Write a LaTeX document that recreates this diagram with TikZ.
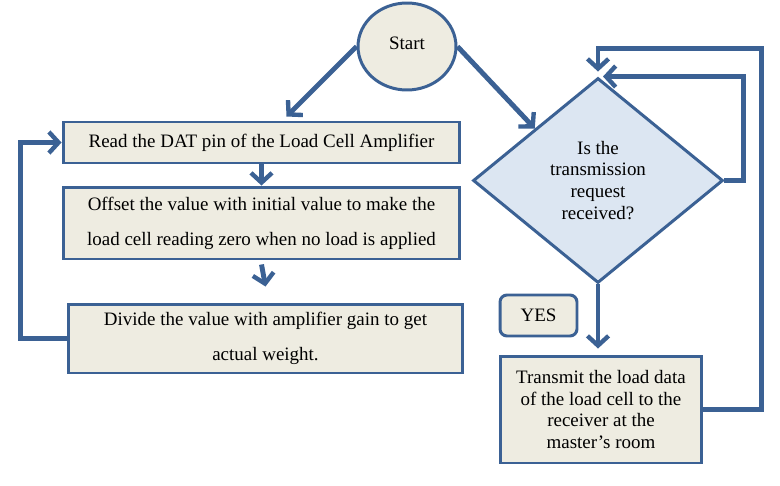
\documentclass[tikz,border=0pt]{standalone}
\usepackage{fontspec}
\newfontfamily\timesfont{Liberation Serif}
\usetikzlibrary{arrows.meta,shapes.geometric,positioning}
\definecolor{flowline}{RGB}{59,97,148}
\definecolor{boxfill}{RGB}{238,236,225}
\definecolor{decfill}{RGB}{220,230,242}

\begin{document}
\begin{tikzpicture}[x=0.02cm, y=-0.02cm,
  >={Straight Barb[length=5.5pt,width=12pt,line width=2.5pt]},
  every node/.style={font=\timesfont\fontsize{10.8}{12.5}\selectfont},
  proc/.style={draw=flowline, line width=1.7pt, fill=boxfill, inner sep=0pt, align=center},
  wide/.style={font=\timesfont\fontsize{10.8}{20}\selectfont},
  decide/.style={draw=flowline, line width=1.7pt, fill=decfill, diamond, inner sep=0pt,
    minimum width=5cm, minimum height=4.1cm, align=center},
  flow/.style={->, draw=flowline, line width=2.8pt}]
\path[use as bounding box] (0,0) rectangle (780,486);
\node[proc, ellipse, minimum width=1.96cm, minimum height=1.74cm] (start) at (407,46.5) {\raisebox{0.12cm}{Start}};
\node[proc, minimum width=7.94cm, minimum height=0.82cm] (read) at (261.5,142.5) {Read the DAT pin of the Load Cell Amplifier};
\node[proc, wide, minimum width=7.94cm, minimum height=1.44cm] (offset) at (261.5,223) {Offset the value with initial value to make the\\load cell reading zero when no load is applied};
\node[proc, wide, minimum width=7.9cm, minimum height=1.38cm] (divide) at (265.5,338.5) {Divide the value with amplifier gain to get\\actual weight.};
\node[decide] (request) at (598,180.5) {Is the\\transmission\\request\\received?};
\node[proc, rounded corners=4pt, minimum width=1.54cm, minimum height=0.82cm] (yes) at (538.5,315.5) {YES};
\node[proc, minimum width=4.04cm, minimum height=2.14cm] (send) at (601,409.5) {Transmit the load data\\of the load cell to the\\receiver at the\\master’s room};
% connectors
\draw[flow] (start.west) -- ([xshift=0.5cm,yshift=0.08cm]read.north);
\draw[flow] (start.east) -- (request.north west);
\draw[flow] (read.south) -- (offset.north);
\draw[flow] ([yshift=-0.08cm]offset.south) -- ([yshift=0.32cm]divide.north);
\draw[flow] (divide.west) -- ++(-46,0) |- (read.west);
\draw[flow] (request.east) -- ++(19,0) |- ([xshift=0.1cm]request.north);
\draw[flow] (send.east) -- ++(58,0) |- ([yshift=0.56cm]request.north) -- ([yshift=0.1cm]request.north);
\draw[flow] (request.south) -- ([yshift=0.12cm]request.south |- send.north);
\end{tikzpicture}
\end{document}
